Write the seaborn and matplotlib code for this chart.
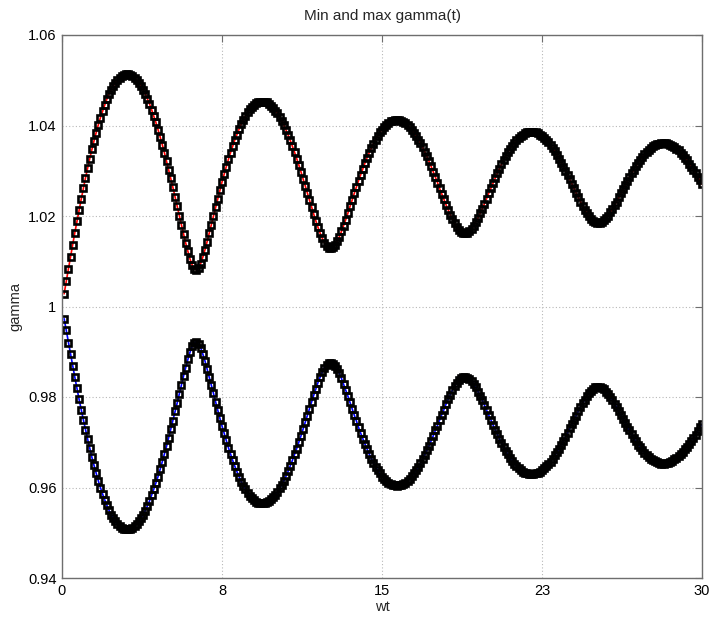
import numpy as np
import pandas as pd
import matplotlib
matplotlib.use("Agg")
import matplotlib.pyplot as plt
import seaborn as sns

# ---- data (gamma max / min vs wt, 300 samples) ----
gamma_max = [
    1.0028, 1.0056, 1.0083, 1.0110, 1.0137, 1.0163, 1.0188, 1.0213, 1.0237, 1.0261,
    1.0284, 1.0306, 1.0327, 1.0347, 1.0366, 1.0384, 1.0401, 1.0417, 1.0431, 1.0445,
    1.0458, 1.0469, 1.0479, 1.0487, 1.0495, 1.0501, 1.0506, 1.0510, 1.0512, 1.0513,
    1.0513, 1.0511, 1.0509, 1.0505, 1.0501, 1.0495, 1.0488, 1.0479, 1.0470, 1.0459,
    1.0448, 1.0435, 1.0421, 1.0407, 1.0391, 1.0375, 1.0358, 1.0340, 1.0321, 1.0302,
    1.0283, 1.0263, 1.0242, 1.0222, 1.0201, 1.0180, 1.0160, 1.0140, 1.0122, 1.0105,
    1.0092, 1.0083, 1.0081, 1.0085, 1.0095, 1.0109, 1.0125, 1.0143, 1.0162, 1.0181,
    1.0200, 1.0220, 1.0238, 1.0257, 1.0275, 1.0292, 1.0309, 1.0325, 1.0340, 1.0354,
    1.0368, 1.0380, 1.0392, 1.0403, 1.0413, 1.0421, 1.0429, 1.0436, 1.0441, 1.0446,
    1.0449, 1.0452, 1.0453, 1.0453, 1.0453, 1.0451, 1.0448, 1.0444, 1.0439, 1.0433,
    1.0427, 1.0419, 1.0410, 1.0401, 1.0390, 1.0379, 1.0367, 1.0354, 1.0341, 1.0327,
    1.0313, 1.0298, 1.0282, 1.0267, 1.0251, 1.0235, 1.0220, 1.0204, 1.0189, 1.0175,
    1.0162, 1.0151, 1.0141, 1.0134, 1.0130, 1.0129, 1.0131, 1.0136, 1.0144, 1.0154,
    1.0166, 1.0179, 1.0192, 1.0206, 1.0221, 1.0235, 1.0250, 1.0264, 1.0278, 1.0291,
    1.0304, 1.0317, 1.0329, 1.0340, 1.0350, 1.0360, 1.0369, 1.0377, 1.0385, 1.0391,
    1.0397, 1.0402, 1.0406, 1.0409, 1.0411, 1.0412, 1.0412, 1.0412, 1.0410, 1.0408,
    1.0405, 1.0401, 1.0396, 1.0391, 1.0384, 1.0377, 1.0369, 1.0361, 1.0352, 1.0342,
    1.0332, 1.0321, 1.0310, 1.0298, 1.0286, 1.0274, 1.0261, 1.0249, 1.0237, 1.0225,
    1.0214, 1.0203, 1.0193, 1.0184, 1.0176, 1.0170, 1.0165, 1.0163, 1.0162, 1.0163,
    1.0167, 1.0172, 1.0178, 1.0187, 1.0196, 1.0206, 1.0216, 1.0227, 1.0238, 1.0250,
    1.0261, 1.0272, 1.0283, 1.0294, 1.0304, 1.0314, 1.0323, 1.0332, 1.0341, 1.0348,
    1.0355, 1.0362, 1.0367, 1.0372, 1.0376, 1.0380, 1.0383, 1.0385, 1.0386, 1.0386,
    1.0386, 1.0385, 1.0383, 1.0380, 1.0377, 1.0373, 1.0368, 1.0363, 1.0357, 1.0350,
    1.0343, 1.0335, 1.0327, 1.0318, 1.0309, 1.0300, 1.0290, 1.0281, 1.0271, 1.0261,
    1.0251, 1.0241, 1.0232, 1.0223, 1.0214, 1.0207, 1.0200, 1.0194, 1.0190, 1.0186,
    1.0184, 1.0185, 1.0187, 1.0191, 1.0196, 1.0201, 1.0208, 1.0216, 1.0224, 1.0232,
    1.0241, 1.0250, 1.0259, 1.0268, 1.0277, 1.0286, 1.0294, 1.0302, 1.0310, 1.0317,
    1.0324, 1.0331, 1.0336, 1.0342, 1.0346, 1.0350, 1.0354, 1.0357, 1.0359, 1.0360,
    1.0361, 1.0361, 1.0361, 1.0360, 1.0358, 1.0355, 1.0352, 1.0349, 1.0345, 1.0340,
    1.0335, 1.0329, 1.0323, 1.0316, 1.0309, 1.0302, 1.0294, 1.0287, 1.0279, 1.0270,
]

gamma_min = [
    0.9973, 0.9947, 0.9920, 0.9894, 0.9869, 0.9844, 0.9819, 0.9795, 0.9772, 0.9750,
    0.9728, 0.9707, 0.9687, 0.9667, 0.9649, 0.9632, 0.9615, 0.9600, 0.9586, 0.9573,
    0.9561, 0.9550, 0.9540, 0.9532, 0.9525, 0.9519, 0.9514, 0.9511, 0.9509, 0.9508,
    0.9508, 0.9509, 0.9511, 0.9515, 0.9519, 0.9525, 0.9532, 0.9540, 0.9549, 0.9559,
    0.9570, 0.9583, 0.9596, 0.9610, 0.9624, 0.9640, 0.9657, 0.9674, 0.9691, 0.9710,
    0.9729, 0.9748, 0.9768, 0.9787, 0.9807, 0.9827, 0.9847, 0.9865, 0.9883, 0.9899,
    0.9912, 0.9920, 0.9922, 0.9918, 0.9909, 0.9895, 0.9880, 0.9862, 0.9844, 0.9826,
    0.9808, 0.9789, 0.9771, 0.9753, 0.9736, 0.9720, 0.9704, 0.9688, 0.9674, 0.9660,
    0.9647, 0.9635, 0.9624, 0.9613, 0.9604, 0.9596, 0.9588, 0.9582, 0.9576, 0.9572,
    0.9569, 0.9566, 0.9565, 0.9565, 0.9566, 0.9567, 0.9570, 0.9574, 0.9578, 0.9584,
    0.9590, 0.9598, 0.9606, 0.9615, 0.9625, 0.9636, 0.9648, 0.9660, 0.9673, 0.9686,
    0.9700, 0.9714, 0.9729, 0.9744, 0.9759, 0.9774, 0.9789, 0.9804, 0.9818, 0.9832,
    0.9844, 0.9855, 0.9865, 0.9871, 0.9875, 0.9876, 0.9874, 0.9869, 0.9861, 0.9852,
    0.9841, 0.9828, 0.9815, 0.9802, 0.9788, 0.9774, 0.9760, 0.9747, 0.9733, 0.9720,
    0.9708, 0.9696, 0.9685, 0.9674, 0.9664, 0.9654, 0.9646, 0.9638, 0.9631, 0.9624,
    0.9619, 0.9614, 0.9611, 0.9608, 0.9606, 0.9605, 0.9604, 0.9605, 0.9606, 0.9608,
    0.9611, 0.9615, 0.9619, 0.9625, 0.9631, 0.9638, 0.9645, 0.9654, 0.9662, 0.9672,
    0.9682, 0.9692, 0.9703, 0.9714, 0.9726, 0.9737, 0.9749, 0.9761, 0.9772, 0.9784,
    0.9795, 0.9805, 0.9815, 0.9824, 0.9831, 0.9837, 0.9841, 0.9844, 0.9845, 0.9843,
    0.9840, 0.9835, 0.9829, 0.9821, 0.9812, 0.9803, 0.9793, 0.9782, 0.9771, 0.9760,
    0.9750, 0.9739, 0.9728, 0.9718, 0.9708, 0.9699, 0.9690, 0.9681, 0.9673, 0.9666,
    0.9659, 0.9653, 0.9647, 0.9643, 0.9639, 0.9635, 0.9633, 0.9631, 0.9630, 0.9629,
    0.9630, 0.9631, 0.9632, 0.9635, 0.9638, 0.9642, 0.9647, 0.9652, 0.9657, 0.9664,
    0.9671, 0.9678, 0.9686, 0.9694, 0.9703, 0.9712, 0.9721, 0.9731, 0.9740, 0.9750,
    0.9759, 0.9769, 0.9778, 0.9786, 0.9794, 0.9802, 0.9808, 0.9814, 0.9818, 0.9821,
    0.9823, 0.9822, 0.9820, 0.9817, 0.9812, 0.9807, 0.9800, 0.9793, 0.9785, 0.9777,
    0.9769, 0.9760, 0.9751, 0.9743, 0.9734, 0.9726, 0.9718, 0.9710, 0.9702, 0.9695,
    0.9689, 0.9683, 0.9677, 0.9672, 0.9668, 0.9664, 0.9660, 0.9658, 0.9656, 0.9654,
    0.9653, 0.9653, 0.9654, 0.9655, 0.9657, 0.9659, 0.9662, 0.9665, 0.9669, 0.9674,
    0.9679, 0.9684, 0.9690, 0.9696, 0.9703, 0.9710, 0.9717, 0.9725, 0.9733, 0.9740,
]

# evenly sampled time axis, 0.1 .. 30.0
wt = np.linspace(0.1, 30.0, len(gamma_max))

x_ticks = [0, 7.5, 15, 22.5, 30]
x_tick_labels = ["0", "8", "15", "23", "30"]
y_ticks = [0.94, 0.96, 0.98, 1.00, 1.02, 1.04, 1.06]
y_tick_labels = ["0.94", "0.96", "0.98", "1", "1.02", "1.04", "1.06"]

title_text = "Min and max gamma(t)"
x_label = "wt"
y_label = "gamma"

# ---- styling ----
sns.set_style("white")
plt.rcParams["font.family"] = ["Liberation Sans", "DejaVu Sans"]

W, H = 710, 619
fig = plt.figure(figsize=(W / 100, H / 100), dpi=100)
ax = fig.add_axes([62 / W, 1 - 578 / H, 640 / W, 543 / H])

df = pd.DataFrame({"wt": wt, "gmax": gamma_max, "gmin": gamma_min})

common = dict(
    marker="s",
    markersize=4.5,
    markerfacecolor="none",
    markeredgecolor="black",
    markeredgewidth=1.9,
    linewidth=1.2,
    legend=False,
    ax=ax,
    sort=False,
)
sns.lineplot(data=df, x="wt", y="gmax", color="#ff0000", **common)
sns.lineplot(data=df, x="wt", y="gmin", color="#0000ff", **common)

ax.set_xlim(0, 30)
ax.set_ylim(0.94, 1.06)
ax.set_xticks(x_ticks)
ax.set_xticklabels(x_tick_labels)
ax.set_yticks(y_ticks)
ax.set_yticklabels(y_tick_labels)

ax.grid(True, linestyle=(0, (1, 2)), color="#b8b8b8", linewidth=0.8)
ax.set_axisbelow(True)

for sp in ax.spines.values():
    sp.set_visible(True)
    sp.set_color("#6e6e6e")
    sp.set_linewidth(1.0)

ax.tick_params(direction="in", length=5, width=0.8, color="#6e6e6e",
               top=True, right=True, labelsize=10.5, labelcolor="black", pad=4)

ax.set_xlabel(x_label, fontsize=10.5, labelpad=2)
ax.set_ylabel(y_label, fontsize=10.5, labelpad=4)
ax.set_title(title_text, fontsize=11, pad=11)

fig.savefig("out.png", dpi=100, facecolor="white")
